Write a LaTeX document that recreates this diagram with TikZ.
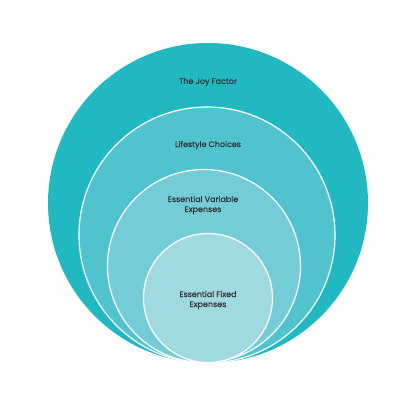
\documentclass[tikz,border=0pt]{standalone}
\usepackage{fontspec}
\setmainfont{Poppins}[FakeBold=0.4]
\usepackage{tikz}
\definecolor{ringA}{HTML}{22B8C2}
\definecolor{ringB}{HTML}{50C3CF}
\definecolor{ringC}{HTML}{74CDD6}
\definecolor{ringD}{HTML}{A0DAE0}
\definecolor{labeltext}{HTML}{2E3436}
\begin{document}
\begin{tikzpicture}[x=1pt,y=-1pt]
        \useasboundingbox (0,0) rectangle (400,400);
        % centres, all circles touch near the bottom (y = 363)
        \coordinate (A) at (208, 203);
        \coordinate (B) at (207, 235);
        \coordinate (C) at (204, 266);
        \coordinate (D) at (208, 298);

        \fill[ringA] (A) circle (160pt);
        \draw[white, line width=1.2pt, fill=ringB] (B) circle (128pt);
        \draw[white, line width=1.2pt, fill=ringC] (C) circle (96.5pt);
        \draw[white, line width=1.2pt, fill=ringD] (D) circle (64.5pt);

        \tikzset{lbl/.style={text=labeltext, font=\fontsize{8}{10}\selectfont, align=center}}
        \node[lbl] (joy) at (208, 82) {The Joy Factor};
        \node[lbl] (life) at (208, 145) {Lifestyle Choices};
        \node[lbl] (var) at (203, 205) {Essential Variable\\Expenses};
        \node[lbl] (fix) at (208, 300) {Essential Fixed\\Expenses};
    \end{tikzpicture}
\end{document}
